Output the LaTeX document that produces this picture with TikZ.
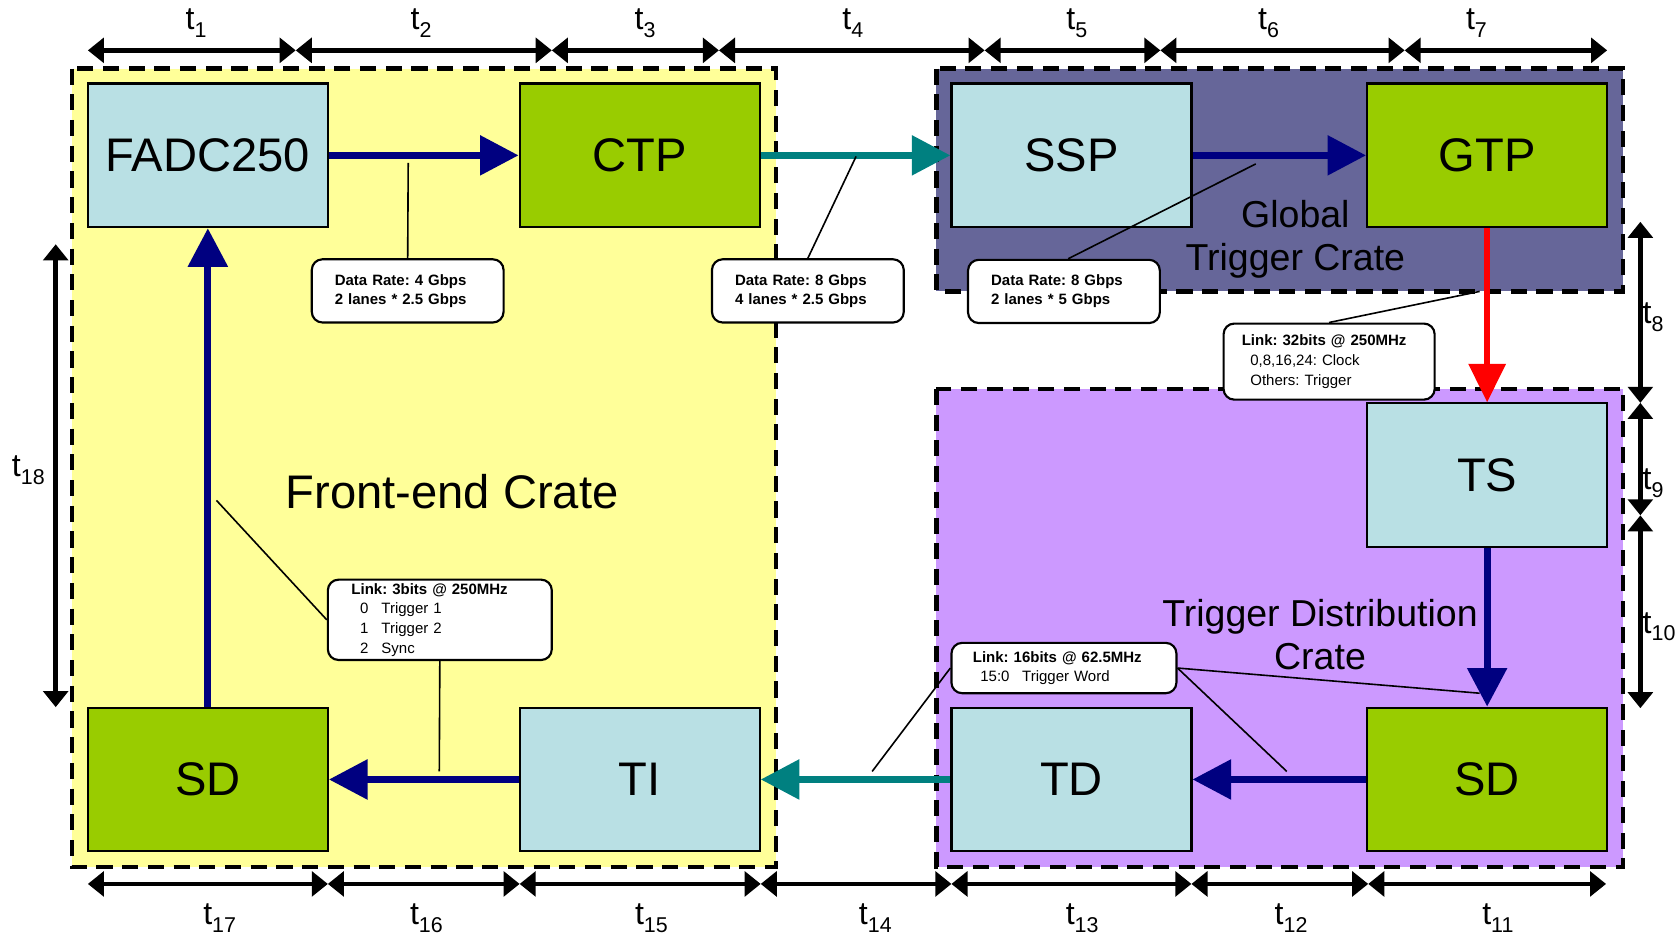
\documentclass[tikz,border=0pt]{standalone}
\usepackage{fontspec}
\setmainfont{Liberation Sans}
\usetikzlibrary{arrows.meta}
\definecolor{lblue}{RGB}{185,224,228}
\definecolor{lgreen}{RGB}{153,204,0}
\definecolor{fyellow}{RGB}{255,255,153}
\definecolor{gcrate}{RGB}{102,102,153}
\definecolor{tcrate}{RGB}{204,153,255}
\definecolor{navyc}{RGB}{0,0,128}
\definecolor{tealc}{RGB}{0,128,128}
\newcommand{\tsub}[1]{t\raisebox{-7pt}{\fontsize{20}{20}\selectfont #1}}
\frenchspacing
\begin{document}
\begin{tikzpicture}[x=1pt,y=-1pt,
  modbox/.style={draw=black, line width=2pt, minimum width=224pt, minimum height=134pt, inner sep=0pt, font=\fontsize{44}{50}\selectfont},
  bluebox/.style={modbox, fill=lblue},
  greenbox/.style={modbox, fill=lgreen},
  crate/.style={draw=black, line width=4pt, dash pattern=on 15pt off 9pt},
  bigarrow/.style={line width=6.5pt, -{Triangle[length=36pt,width=36pt]}},
  dimline/.style={line width=4.5pt, {Triangle[length=15pt,width=23pt]}-{Triangle[length=15pt,width=23pt]}},
  callout/.style={draw=black, line width=2pt, fill=white, rounded corners=10pt, inner ysep=0pt, align=left, font=\fontsize{14}{18.3}\selectfont},
  ratebox/.style={callout, text width=136pt, inner xsep=21.5pt, minimum height=59pt, font=\fontsize{14}{17.5}\selectfont\bfseries},
  lead/.style={line width=1.5pt},
  tlab/.style={font=\fontsize{30}{32}\selectfont, inner sep=0pt},
  cratelab/.style={font=\fontsize{35}{40}\selectfont, inner sep=0pt}
]
\useasboundingbox (0,0) rectangle (1568,872);

% crates
\draw[crate, fill=fyellow] (67,64) rectangle (724,809);
\draw[crate, fill=gcrate] (874,64) rectangle (1515,272);
\draw[crate, fill=tcrate] (874,363) rectangle (1515,809);

% crate labels
\node[font=\fontsize{44}{50}\selectfont, inner sep=0pt, anchor=base] (fecrate) at (422,475) {Front-end Crate};
\node[cratelab, anchor=base] (gc1) at (1209,212) {Global};
\node[cratelab, anchor=base] (gc2) at (1209,252) {Trigger Crate};
\node[cratelab, anchor=base] (tdc1) at (1232,585) {Trigger Distribution};
\node[cratelab, anchor=base] (tdc2) at (1232,625) {Crate};

% modules
\node[bluebox] (fadc) at (194,145) {FADC250};
\node[greenbox] (ctp) at (597,145) {CTP};
\node[bluebox] (ssp) at (1000,145) {SSP};
\node[greenbox] (gtp) at (1388,145) {GTP};
\node[bluebox] (ts) at (1388,443.5) {TS};
\node[greenbox] (sdr) at (1388,727.5) {SD};
\node[bluebox] (td) at (1000,727.5) {TD};
\node[bluebox] (ti) at (597,727.5) {TI};
\node[greenbox] (sdl) at (194,727.5) {SD};

% links
\draw[bigarrow, navyc] (fadc.east) -- (ctp.west);
\draw[bigarrow, tealc] (ctp.east) -- (ssp.west);
\draw[bigarrow, navyc] (ssp.east) -- (gtp.west);
\draw[line width=5pt, red, -{Triangle[length=36pt,width=34pt]}] (gtp.south) -- (ts.north);
\draw[bigarrow, navyc] (ts.south) -- (sdr.north);
\draw[bigarrow, navyc] (sdr.west) -- (td.east);
\draw[bigarrow, tealc] (td.west) -- (ti.east);
\draw[bigarrow, navyc] (ti.west) -- (sdl.east);
\draw[bigarrow, navyc] (sdl.north) -- (fadc.south);

% callouts
\node[ratebox] (c1) at (380.5,271.5) {Data Rate: 4 Gbps\\2 lanes * 2.5 Gbps};
\node[ratebox] (c2) at (754,271.5) {Data Rate: 8 Gbps\\4 lanes * 2.5 Gbps};
\node[ratebox] (c3) at (993,272) {Data Rate: 8 Gbps\\2 lanes * 5 Gbps};
\node[callout, text width=163pt, inner xsep=17pt, minimum height=71pt] (c4) at (1240.5,337.5) {\textbf{Link: 32bits @ 250MHz}\\\hspace*{8pt}0,8,16,24: Clock\\\hspace*{8pt}Others: Trigger};
\node[callout, text width=165pt, inner xsep=22pt, minimum height=75pt] (c5) at (410.5,578.5) {\textbf{Link: 3bits @ 250MHz}\\\hspace*{8pt}\makebox[20pt][l]{0}Trigger 1\\\hspace*{8pt}\makebox[20pt][l]{1}Trigger 2\\\hspace*{8pt}\makebox[20pt][l]{2}Sync};
\node[callout, text width=170pt, inner xsep=20pt, minimum height=47pt] (c6) at (993,623.5) {\textbf{Link: 16bits @ 62.5MHz}\\\hspace*{7pt}\makebox[39pt][l]{15:0}Trigger Word};

% callout leads
\coordinate (l1) at (381,152);
\coordinate (l2) at (799,146);
\coordinate (l3) at (1172,153);
\coordinate (l4) at (1381,272);
\coordinate (l5a) at (202,467);
\coordinate (l5b) at (410,720);
\coordinate (l6a) at (814,720);
\coordinate (l6b) at (1381,647);
\coordinate (l6c) at (1201,720);
\draw[lead] (c1.north) -- (l1);
\draw[lead] (c2.north) -- (l2);
\draw[lead] ([xshift=4pt]c3.north) -- (l3);
\draw[lead] (c4.north) -- (l4);
\draw[lead] (c5.west) -- (l5a);
\draw[lead] (c5.south) -- (l5b);
\draw[lead] (c6.west) -- (l6a);
\draw[lead] (c6.east) -- (l6b);
\draw[lead] (c6.east) -- (l6c);

% top timing
\foreach \x [count=\i] in {82,276,515,671,919,1083,1311,1500} \coordinate (T\i) at (\x,47);
\foreach \a/\b in {1/2,2/3,3/4,4/5,5/6,6/7,7/8} \draw[dimline] (T\a) -- (T\b);
\foreach \x/\n in {183/1,393/2,602/3,796/4,1005/5,1184/6,1378/7} \node[tlab, anchor=base] (tl\n) at (\x,28) {\tsub{\n}};

% bottom timing
\foreach \x [count=\i] in {82,306,485,710,888,1112,1277,1499} \coordinate (B\i) at (\x,825);
\foreach \a/\b in {1/2,2/3,3/4,4/5,5/6,6/7,7/8} \draw[dimline] (B\a) -- (B\b);
\foreach \x/\n in {205/17,398/16,608/15,817/14,1010/13,1205/12,1398/11} \node[tlab, anchor=base] (tl\n) at (\x,863) {\tsub{\n}};

% right timing
\foreach \y [count=\i] in {207,376,481,661} \coordinate (R\i) at (1531,\y);
\foreach \a/\b in {1/2,2/3,3/4} \draw[dimline] (R\a) -- (R\b);
\foreach \y/\n in {302/8,457/9,591/10} \node[tlab, anchor=base west] (tl\n) at (1533,\y) {\tsub{\n}};

% left timing
\coordinate (L1) at (52,228);
\coordinate (L2) at (52,660);
\draw[dimline] (L1) -- (L2);
\node[tlab, anchor=base west] (tl18) at (11,445) {\tsub{18}};
\end{tikzpicture}
\end{document}
